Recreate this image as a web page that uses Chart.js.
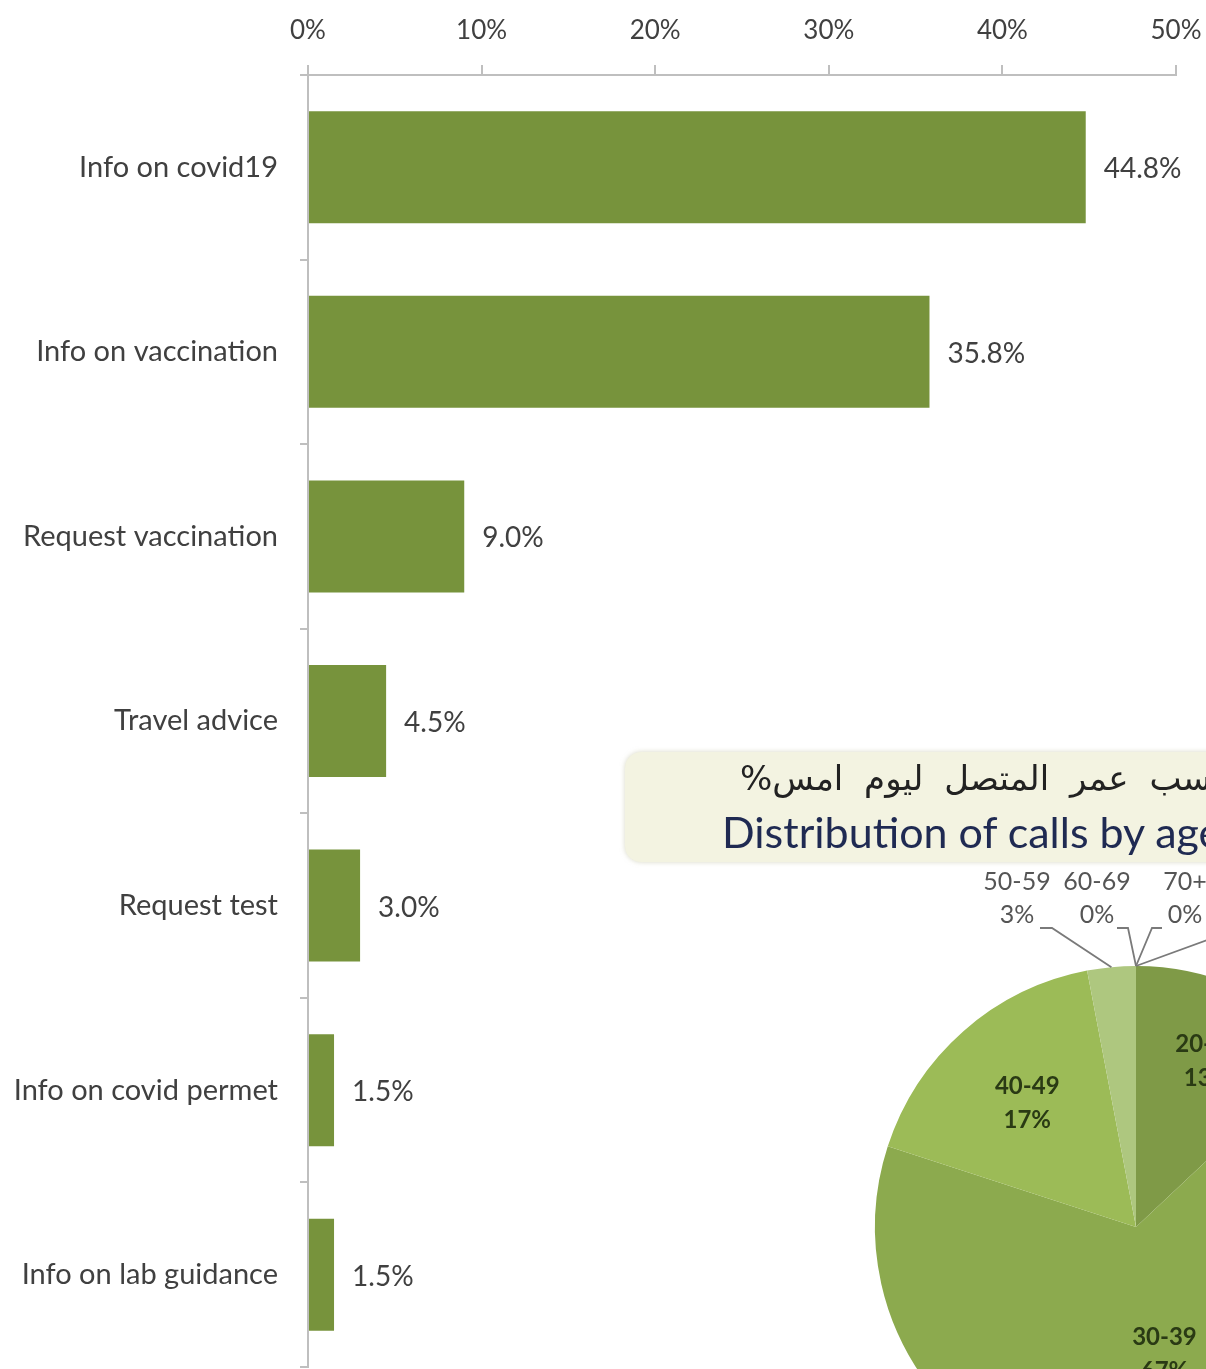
<!DOCTYPE html>
<html><head><meta charset="utf-8">
<script src="https://cdn.jsdelivr.net/npm/chart.js@4"></script>
<style>
html,body{margin:0;padding:0;background:#fff;}
body{width:1206px;height:1369px;overflow:hidden;position:relative;}
#bar{position:absolute;left:0;top:0;}
#titleBox{position:absolute;left:625px;top:752px;width:720px;height:110px;background:#F3F3E1;border-radius:16px;box-shadow:0 0 5px rgba(190,190,160,0.6);}
#pie{position:absolute;left:736px;top:827px;}
#ar{position:absolute;left:740px;top:758px;font-family:"DejaVu Sans";font-size:34px;word-spacing:10px;color:#222;white-space:nowrap;direction:rtl;}
#en{position:absolute;left:722px;top:806px;font-family:Lato;font-size:43px;color:#1F2A52;white-space:nowrap;}
</style></head>
<body>
<canvas id="bar" width="1206" height="1369"></canvas>
<div id="titleBox"></div>
<canvas id="pie" width="800" height="800"></canvas>
<div id="ar"></div>
<div id="en"></div>
<script>
// ---- data ----
const categories = ['Info on covid19','Info on vaccination','Request vaccination','Travel advice','Request test','Info on covid permet','Info on lab guidance'];
const shares = [44.8, 35.8, 9.0, 4.5, 3.0, 1.5, 1.5];
const axisTicks = [0, 10, 20, 30, 40, 50];
const ageGroups = ['<20','20-29','30-39','40-49','50-59','60-69','70+'];
const ageShares = [0, 13, 67, 17, 3, 0, 0];
const pieTitleAr = 'توزيع المكالمات حسب عمر المتصل ليوم امس%';
const pieTitleEn = 'Distribution of calls by age';

document.getElementById('ar').textContent = pieTitleAr;
document.getElementById('en').textContent = pieTitleEn;

// ---- bar chart ----
const valueLabels = {
  id: 'valueLabels',
  afterDatasetsDraw(chart) {
    const ctx = chart.ctx;
    const meta = chart.getDatasetMeta(0);
    ctx.save();
    ctx.font = '28px Lato';
    ctx.fillStyle = '#404040';
    ctx.textAlign = 'left';
    ctx.textBaseline = 'middle';
    meta.data.forEach((bar, i) => {
      ctx.fillText(shares[i].toFixed(1) + '%', bar.x + 18, bar.y + 2);
    });
    ctx.restore();
  }
};

new Chart(document.getElementById('bar'), {
  type: 'bar',
  data: {
    labels: categories,
    datasets: [{
      data: shares,
      backgroundColor: '#77933C',
      borderWidth: 0,
      categoryPercentage: 1,
      barPercentage: 0.607
    }]
  },
  options: {
    indexAxis: 'y',
    responsive: false,
    animation: false,
    devicePixelRatio: 1,
    layout: { padding: { top: 0, right: 30, bottom: 2, left: 0 } },
    plugins: { legend: { display: false }, tooltip: { enabled: false } },
    scales: {
      x: {
        position: 'top',
        min: 0, max: 50,
        afterBuildTicks(s) { s.ticks = axisTicks.map(v => ({ value: v })); },
        afterFit(s) { s.height = 75; s.paddingLeft = 0; s.paddingRight = 0; },
        ticks: {
          callback: v => v + '%',
          font: { family: 'Lato', size: 26 },
          color: '#404040',
          padding: 19,
          maxRotation: 0
        },
        grid: { drawOnChartArea: false, drawTicks: true, tickLength: 10, color: '#BFBFBF', lineWidth: 2 },
        border: { display: true, color: '#BFBFBF', width: 2 }
      },
      y: {
        afterFit(s) { s.width = 308; s.paddingTop = 0; s.paddingBottom = 0; },
        ticks: {
          font: { family: 'Lato', size: 29 },
          color: '#404040',
          padding: 22
        },
        grid: { drawOnChartArea: false, drawTicks: true, tickLength: 8, color: '#BFBFBF', lineWidth: 2 },
        border: { display: true, color: '#BFBFBF', width: 2 }
      }
    }
  },
  plugins: [valueLabels]
});

// ---- pie chart ----
const pieLabelLayout = {
  '<20':   { inside: false, cx: 165, ty1: -345, ty2: -312, kx: 110, ky: -301, tx: 125 },
  '20-29': { inside: true, r: 0.69 },
  '30-39': { inside: true, r: 0.50 },
  '40-49': { inside: true, r: 0.63 },
  '50-59': { inside: false, cx: -119, ty1: -345, ty2: -312, kx: -84, ky: -299, tx: -96 },
  '60-69': { inside: false, cx: -39, ty1: -345, ty2: -312, kx: -8, ky: -299, tx: -19 },
  '70+':   { inside: false, cx: 49, ty1: -345, ty2: -312, kx: 16, ky: -299, tx: 26 }
};

const pieLabels = {
  id: 'pieLabels',
  afterDatasetsDraw(chart) {
    const ctx = chart.ctx;
    const meta = chart.getDatasetMeta(0);
    ctx.save();
    ctx.textAlign = 'center';
    ctx.textBaseline = 'middle';
    meta.data.forEach((arc, i) => {
      const lay = pieLabelLayout[ageGroups[i]];
      if (!lay) return;
      const p = arc.getProps(['x', 'y', 'startAngle', 'endAngle', 'outerRadius'], true);
      const mid = (p.startAngle + p.endAngle) / 2;
      const t1 = ageGroups[i], t2 = ageShares[i] + '%';
      if (lay.inside) {
        const cx = p.x + Math.cos(mid) * p.outerRadius * lay.r;
        const cy = p.y + Math.sin(mid) * p.outerRadius * lay.r;
        ctx.font = 'bold 24px Lato';
        ctx.fillStyle = '#2A3A14';
        ctx.fillText(t1, cx, cy - 17);
        ctx.fillText(t2, cx, cy + 17);
      } else {
        const ex = p.x + Math.cos(mid) * p.outerRadius;
        const ey = p.y + Math.sin(mid) * p.outerRadius;
        ctx.strokeStyle = '#7A7A7A';
        ctx.lineWidth = 1.8;
        ctx.beginPath();
        ctx.moveTo(ex, ey);
        ctx.lineTo(p.x + lay.kx, p.y + lay.ky);
        ctx.lineTo(p.x + lay.tx, p.y + lay.ky);
        ctx.stroke();
        ctx.font = '25px Lato';
        ctx.fillStyle = '#555555';
        ctx.fillText(t1, p.x + lay.cx, p.y + lay.ty1);
        ctx.fillText(t2, p.x + lay.cx, p.y + lay.ty2);
      }
    });
    ctx.restore();
  }
};

new Chart(document.getElementById('pie'), {
  type: 'pie',
  data: {
    labels: ageGroups,
    datasets: [{
      data: ageShares,
      backgroundColor: ['#9BBB59', '#7F9A47', '#8CAA4E', '#9CBB57', '#AEC77F', '#C3D69B', '#D7E4BD'],
      borderWidth: 0
    }]
  },
  options: {
    responsive: false,
    animation: false,
    devicePixelRatio: 1,
    layout: { padding: 139 },
    plugins: { legend: { display: false }, tooltip: { enabled: false }, title: { display: false } }
  },
  plugins: [pieLabels]
});
</script>
</body></html>
